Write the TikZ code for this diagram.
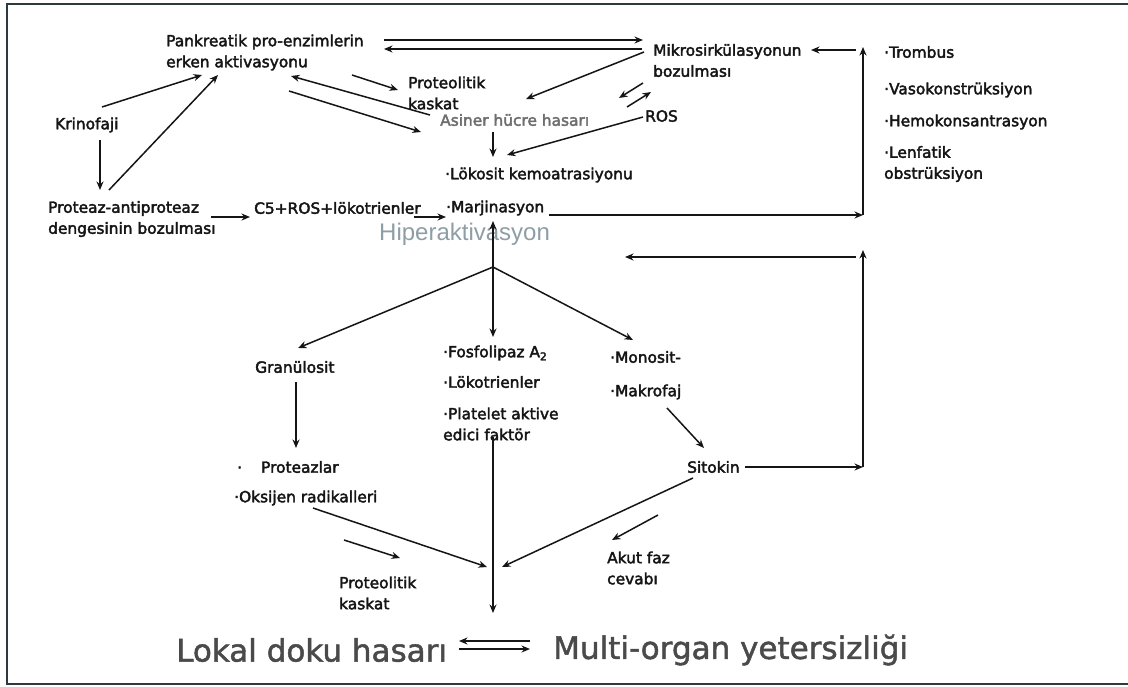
\documentclass[tikz,border=0pt]{standalone}
\usepackage{fontspec}
\setmainfont{DejaVu Sans}[FakeBold=2.5]
\newfontfamily\hipfont{Liberation Sans}
\newfontfamily\bigfont{DejaVu Sans}[FakeBold=1.5]
\usetikzlibrary{arrows.meta}
\definecolor{ink}{HTML}{151515}
\definecolor{grayA}{HTML}{6E6E6E}
\definecolor{grayH}{HTML}{8E9EA6}
\definecolor{grayL}{HTML}{4A4A4A}
\definecolor{frameC}{HTML}{2C3A40}
\begin{document}
\begin{tikzpicture}[x=1pt,y=-1pt,
  lbl/.style={anchor=west,inner sep=0pt,text=ink,font=\fontsize{15.4}{21}\selectfont,align=left},
  graylbl/.style={lbl,text=grayA},
  hiplbl/.style={anchor=west,inner sep=0pt,text=grayH,font=\hipfont\fontsize{24}{27}\selectfont},
  biglbl/.style={anchor=west,inner sep=0pt,text=grayL,font=\bigfont\fontsize{31}{34}\selectfont},
  arr/.style={draw=ink,line width=1.5pt,-{Stealth[length=8.5pt,width=7pt]}},
  ln/.style={draw=ink,line width=1.5pt}
]
\useasboundingbox (0,0) rectangle (1128,686);
\fill[white] (0,0) rectangle (1128,686);
\draw[frameC,line width=1.6pt] (1128,4) -- (7,4) -- (7,684) -- (1128,684);

% ---------- text nodes ----------
\node[lbl] (P) at (166,52.5) {Pankreatik pro-enzimlerin\\erken aktivasyonu};
\node[lbl] (Kr) at (55,125) {Krinofaji};
\node[lbl] (PA) at (48,219) {Proteaz-antiproteaz\\dengesinin bozulması};
\node[lbl] (C5) at (254,208) {C5+ROS+lökotrienler};
\node[lbl] (Mar) at (446,208) {·Marjinasyon};
\node[hiplbl] (Hip) at (379,234) {Hiperaktivasyon};
\node[lbl] (Lok) at (445,175) {·Lökosit kemoatrasiyonu};
\node[graylbl] (As) at (440,120) {Asiner hücre hasarı};
\node[lbl] (ROS) at (645,116) {ROS};
\node[lbl] (PK1) at (408,93) {Proteolitik\\kaskat};
\node[lbl] (Mik) at (653,60.5) {Mikrosirkülasyonun\\bozulması};
\node[lbl] (Tr) at (884,52) {·Trombus};
\node[lbl] (Va) at (884,90) {·Vasokonstrüksiyon};
\node[lbl] (He) at (884,122) {·Hemokonsantrasyon};
\node[lbl] (Le) at (884,164) {·Lenfatik\\obstrüksiyon};
\node[lbl] (Gr) at (255,367) {Granülosit};
\node[lbl] (F1) at (443,353) {·Fosfolipaz A\textsubscript{2}};
\node[lbl] (F2) at (443,382) {·Lökotrienler};
\node[lbl] (F3) at (443,424) {·Platelet aktive\\edici faktör};
\node[lbl] (Mo) at (610,357) {·Monosit-};
\node[lbl] (Ma) at (610,392) {·Makrofaj};
\node[lbl] (Si) at (687,467) {Sitokin};
\node[lbl] (Pr) at (237,467) {·\hspace{19pt}Proteazlar};
\node[lbl] (Ok) at (234,498) {·Oksijen radikalleri};
\node[lbl] (PK2) at (339,593) {Proteolitik\\kaskat};
\node[lbl] (Ak) at (607,568) {Akut faz\\cevabı};
\node[biglbl] (Lo) at (176,650) {Lokal doku hasarı};
\node[biglbl] (Mu) at (553,650) {Multi-organ yetersizliği};

% ---------- connector end points ----------
\coordinate (pmA) at (384,40);  \coordinate (pmB) at (643,40);
\coordinate (mpA) at (642,49);  \coordinate (mpB) at (384,49);
\coordinate (maA) at (644,52);  \coordinate (maB) at (526,99);
\coordinate (kpA) at (102,107); \coordinate (kpB) at (202,75);
\coordinate (ppA) at (109,190); \coordinate (ppB) at (218,75);
\coordinate (kaA) at (100,140); \coordinate (kaB) at (100,190);
\coordinate (pkA) at (352,75);  \coordinate (pkB) at (398,90);
\coordinate (apA) at (430,115); \coordinate (apB) at (291,76);
\coordinate (paA) at (289,91);  \coordinate (paB) at (421,132);
\coordinate (alA) at (493,132); \coordinate (alB) at (493,157);
\coordinate (rlA) at (643,117); \coordinate (rlB) at (507,155);
\coordinate (r1A) at (643,83);  \coordinate (r1B) at (619,98);
\coordinate (r2A) at (627,107); \coordinate (r2B) at (651,92);
\coordinate (pcA) at (211,217); \coordinate (pcB) at (250,217);
\coordinate (cmA) at (414,217); \coordinate (cmB) at (446,217);
\coordinate (hub) at (493,267); \coordinate (hmB) at (493,221);
\coordinate (mrA) at (549,215); \coordinate (corner1) at (863,215);
\coordinate (top1) at (863,47);
\coordinate (tmA) at (856,50);  \coordinate (tmB) at (811,50);
\coordinate (hgB) at (298,348); \coordinate (hfB) at (493,337); \coordinate (hoB) at (633,340);
\coordinate (gpA) at (296,382); \coordinate (gpB) at (296,448);
\coordinate (msA) at (667,408); \coordinate (msB) at (704,448);
\coordinate (srA) at (745,467); \coordinate (corner2) at (863,467);
\coordinate (top2) at (863,250);
\coordinate (tlA) at (856,257); \coordinate (tlB) at (625,257);
\coordinate (fdA) at (493,437); \coordinate (fdB) at (493,613);
\coordinate (ocA) at (313,508); \coordinate (ocB) at (487,567);
\coordinate (kkA) at (344,540); \coordinate (kkB) at (400,558);
\coordinate (scA) at (693,478); \coordinate (scB) at (502,567);
\coordinate (afA) at (658,515); \coordinate (afB) at (612,540);
\coordinate (lmA) at (530,641); \coordinate (lmB) at (459,641);
\coordinate (mlA) at (459,649); \coordinate (mlB) at (530,649);

% ---------- connectors ----------
\draw[arr] (pmA) -- (pmB);
\draw[arr] (mpA) -- (mpB);
\draw[arr] (maA) -- (maB);
\draw[arr] (kpA) -- (kpB);
\draw[arr] (ppA) -- (ppB);
\draw[arr] (kaA) -- (kaB);
\draw[arr] (pkA) -- (pkB);
\draw[arr] (apA) -- (apB);
\draw[arr] (paA) -- (paB);
\draw[arr] (alA) -- (alB);
\draw[arr] (rlA) -- (rlB);
\draw[arr] (r1A) -- (r1B);
\draw[arr] (r2A) -- (r2B);
\draw[arr] (pcA) -- (pcB);
\draw[arr] (cmA) -- (cmB);
\draw[arr] (hub) -- (hmB);
\draw[arr] (mrA) -- (corner1);
\draw[arr] (corner1) -- (top1);
\draw[arr] (tmA) -- (tmB);
\draw[arr] (hub) -- (hgB);
\draw[arr] (hub) -- (hfB);
\draw[arr] (hub) -- (hoB);
\draw[arr] (gpA) -- (gpB);
\draw[arr] (msA) -- (msB);
\draw[arr] (srA) -- (corner2);
\draw[arr] (corner2) -- (top2);
\draw[arr] (tlA) -- (tlB);
\draw[arr] (fdA) -- (fdB);
\draw[arr] (ocA) -- (ocB);
\draw[arr] (kkA) -- (kkB);
\draw[arr] (scA) -- (scB);
\draw[arr] (afA) -- (afB);
\draw[arr] (lmA) -- (lmB);
\draw[arr] (mlA) -- (mlB);
\end{tikzpicture}
\end{document}
